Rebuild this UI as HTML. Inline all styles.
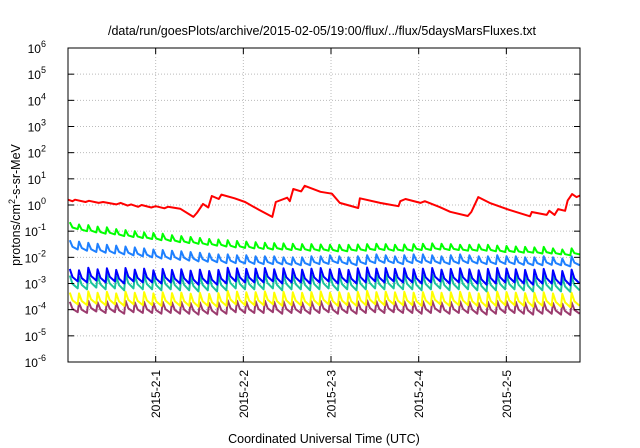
<!DOCTYPE html>
<html><head><meta charset="utf-8"><style>
html,body{margin:0;padding:0;background:#fff;}
svg{display:block;font-family:"Liberation Sans",sans-serif;}
</style></head><body>
<svg id="chart" width="640" height="448" viewBox="0 0 640 448" xmlns="http://www.w3.org/2000/svg">
<text x="322" y="35" font-size="12.5" text-anchor="middle" fill="#000">/data/run/goesPlots/archive/2015-02-05/19:00/flux/../flux/5daysMarsFluxes.txt</text>
<g id="grid"></g>
<g id="series"></g>
<rect x="68" y="48" width="512" height="314" fill="none" stroke="#000" stroke-width="1"/>
<g id="axes"></g>
<text x="324" y="443" font-size="12.5" text-anchor="middle">Coordinated Universal Time (UTC)</text>
<text transform="translate(20,205) rotate(-90)" font-size="12.5" text-anchor="middle">protons/cm<tspan font-size="9" dy="-5">2</tspan><tspan dy="5">-s-sr-MeV</tspan></text>
</svg>
<script>
const yExponents=[-6,-5,-4,-3,-2,-1,0,1,2,3,4,5,6];
const xTickDays=[1,2,3,4,5];
const xTickLabels=["2015-2-1","2015-2-2","2015-2-3","2015-2-4","2015-2-5"];
const toothStart=0.02, toothPeriod=0.106;
const redTimes=[0,0.05,0.08,0.2,0.24,0.35,0.4,0.55,0.6,0.68,0.72,0.8,0.84,0.95,1.0,1.1,1.14,1.28,1.43,1.47,1.54,1.6,1.64,1.72,1.75,1.9,2.02,2.18,2.33,2.37,2.5,2.53,2.57,2.66,2.7,2.88,3.01,3.1,3.31,3.33,3.56,3.77,3.79,3.85,4.02,4.07,4.24,4.36,4.56,4.6,4.68,4.81,5.04,5.27,5.29,5.46,5.49,5.55,5.59,5.67,5.7,5.75,5.8,5.84];
const redValues=[1.6,1.4,1.6,1.3,1.45,1.2,1.3,1.05,1.2,0.95,1.05,0.85,1.0,0.8,0.9,0.75,0.85,0.72,0.35,0.5,1.1,0.8,2.2,1.7,2.5,1.8,1.3,0.65,0.35,1.3,1.9,1.4,4.1,3.3,5.4,3.2,2.7,1.2,0.77,1.8,1.2,0.9,1.4,1.7,1.2,1.4,0.83,0.55,0.38,0.54,2.0,1.2,0.64,0.37,0.54,0.42,0.6,0.42,0.7,0.6,1.5,2.6,2.0,2.3];
const greenPeaks=[0.22,0.18,0.17,0.15,0.14,0.12,0.11,0.10,0.09,0.085,0.08,0.07,0.065,0.06,0.055,0.05,0.048,0.045,0.042,0.04,0.038,0.036,0.035,0.034,0.033,0.032,0.032,0.031,0.03,0.03,0.03,0.031,0.032,0.033,0.032,0.03,0.031,0.032,0.033,0.034,0.033,0.032,0.03,0.03,0.031,0.03,0.028,0.027,0.026,0.025,0.024,0.025,0.022,0.02,0.022];
const greenTroughs=[0.12,0.1,0.09,0.08,0.075,0.065,0.06,0.055,0.05,0.045,0.042,0.038,0.035,0.033,0.03,0.028,0.026,0.024,0.023,0.022,0.021,0.02,0.02,0.019,0.019,0.018,0.018,0.018,0.017,0.017,0.018,0.018,0.019,0.019,0.018,0.018,0.018,0.019,0.019,0.02,0.019,0.019,0.018,0.018,0.018,0.017,0.016,0.016,0.015,0.015,0.014,0.014,0.013,0.012,0.013];
const skyPeaks=[0.045,0.04,0.036,0.033,0.03,0.028,0.026,0.024,0.022,0.02,0.019,0.018,0.017,0.016,0.015,0.014,0.013,0.013,0.012,0.012,0.011,0.011,0.011,0.01,0.01,0.01,0.011,0.011,0.012,0.011,0.01,0.011,0.012,0.013,0.012,0.011,0.012,0.013,0.013,0.012,0.011,0.012,0.013,0.012,0.011,0.011,0.012,0.011,0.011,0.01,0.01,0.011,0.01,0.009,0.011];
const skyTroughs=[0.02,0.018,0.016,0.015,0.014,0.013,0.012,0.011,0.01,0.009,0.0085,0.008,0.0075,0.007,0.0068,0.0065,0.006,0.006,0.0058,0.0056,0.0055,0.0055,0.0054,0.0052,0.005,0.005,0.0055,0.0056,0.006,0.0055,0.005,0.0055,0.006,0.0062,0.006,0.0055,0.006,0.0062,0.006,0.0058,0.0055,0.0058,0.006,0.0058,0.0055,0.0055,0.0056,0.0055,0.0052,0.005,0.005,0.0052,0.005,0.0045,0.005];
const bluePeaks=[3.6,3.2,4.0,3.5,3.8,3.3,3.9,3.4,3.7,3.2,3.6,3.3,3.5,3.1,3.4,3.0,3.3,4.0,3.8,3.6,3.7,3.9,3.5,3.8,3.6,3.4,3.7,3.9,3.5,3.6,3.3,3.8,4.1,3.7,3.9,3.6,3.8,3.5,3.7,3.9,3.4,3.6,3.8,3.5,3.2,3.6,3.9,3.7,3.5,3.3,3.4,3.6,3.2,3.0,3.4].map(v=>v*1e-3);
const blueTroughs=[1.2,1.1,1.3,1.1,1.2,1.0,1.2,1.1,1.1,1.0,1.1,1.0,1.0,0.9,1.0,0.9,1.0,1.2,1.1,1.1,1.1,1.2,1.0,1.1,1.1,1.0,1.1,1.2,1.0,1.1,1.0,1.1,1.2,1.1,1.2,1.1,1.1,1.0,1.1,1.2,1.0,1.1,1.1,1.0,0.9,1.0,1.1,1.1,1.0,0.9,1.0,1.0,0.9,0.85,1.0].map(v=>v*1e-3);
const tealPeaks=[2.0,1.8,2.3,2.0,2.2,1.9,2.3,2.0,2.1,1.9,2.1,1.9,2.0,1.8,2.0,1.8,1.9,2.3,2.2,2.1,2.1,2.2,2.0,2.2,2.1,2.0,2.1,2.2,2.0,2.1,1.9,2.2,2.3,2.1,2.2,2.0,2.2,2.0,2.1,2.2,1.9,2.1,2.2,2.0,1.8,2.0,2.2,2.1,2.0,1.9,1.9,2.0,1.8,1.7,1.9].map(v=>v*1e-3);
const tealTroughs=[0.65,0.6,0.7,0.6,0.65,0.55,0.65,0.6,0.6,0.55,0.6,0.55,0.55,0.5,0.55,0.5,0.55,0.65,0.6,0.6,0.6,0.65,0.55,0.6,0.6,0.55,0.6,0.65,0.55,0.6,0.55,0.6,0.65,0.6,0.65,0.6,0.6,0.55,0.6,0.65,0.55,0.6,0.6,0.55,0.5,0.55,0.6,0.6,0.55,0.5,0.55,0.55,0.5,0.48,0.55].map(v=>v*1e-3);
const yellowPeaks=[4.5,4.2,5.0,4.4,4.8,4.2,4.9,4.4,4.7,4.2,4.6,4.3,4.5,4.1,4.4,4.0,4.3,5.2,4.9,4.6,4.7,5.0,4.5,4.8,4.6,4.4,4.7,5.0,4.5,4.6,4.3,4.8,5.2,4.7,4.9,4.6,4.8,4.5,4.7,4.9,4.4,4.6,4.8,4.5,4.2,4.6,4.9,4.7,4.5,4.3,4.4,4.6,4.2,4.0,4.4].map(v=>v*1e-4);
const yellowTroughs=[1.6,1.5,1.7,1.5,1.6,1.4,1.6,1.5,1.5,1.4,1.5,1.4,1.4,1.3,1.4,1.3,1.4,1.6,1.5,1.5,1.5,1.6,1.4,1.5,1.5,1.4,1.5,1.6,1.4,1.5,1.4,1.5,1.6,1.5,1.6,1.5,1.5,1.4,1.5,1.6,1.4,1.5,1.5,1.4,1.3,1.4,1.5,1.5,1.4,1.3,1.4,1.4,1.3,1.25,1.4].map(v=>v*1e-4);
const purplePeaks=[2.0,1.8,2.2,1.9,2.1,1.8,2.2,1.9,2.0,1.8,2.0,1.9,2.0,1.8,1.9,1.8,1.9,2.3,2.2,2.0,2.1,2.2,2.0,2.1,2.0,1.9,2.1,2.2,2.0,2.0,1.9,2.1,2.3,2.1,2.2,2.0,2.1,2.0,2.1,2.2,1.9,2.0,2.1,2.0,1.8,2.0,2.2,2.1,2.0,1.9,1.9,2.0,1.8,1.7,1.9].map(v=>v*1e-4);
const purpleTroughs=[8,7.5,8.5,7.5,8,7,8,7.5,7.5,7,7.5,7,7,6.5,7,6.5,7,8,7.5,7.5,7.5,8,7,7.5,7.5,7,7.5,8,7,7.5,7,7.5,8,7.5,8,7.5,7.5,7,7.5,8,7,7.5,7.5,7,6.5,7,7.5,7.5,7,6.5,7,7,6.5,6.3,7].map(v=>v*1e-5);

const X0=68,X1=580,Y0=48,Y1=362,DMIN=0,DMAX=5.84,LMIN=-6,LMAX=6;
const xs=d=>X0+(d-DMIN)/(DMAX-DMIN)*(X1-X0);
const ys=v=>Y1-(Math.log10(v)-LMIN)/(LMAX-LMIN)*(Y1-Y0);
const NS="http://www.w3.org/2000/svg";
function mk(tag,parent){const e=document.createElementNS(NS,tag);parent.appendChild(e);return e;}
const grid=document.getElementById('grid'),axes=document.getElementById('axes'),ser=document.getElementById('series');

yExponents.forEach(p=>{
  const y=ys(Math.pow(10,p));
  if(p>LMIN&&p<LMAX){const g=mk('line',grid);
    
    
    g.setAttribute('x1',X0);g.setAttribute('x2',X1);g.setAttribute('y1',y);g.setAttribute('y2',y);
    g.setAttribute('stroke','#bbb');g.setAttribute('stroke-dasharray','1,2');}
  [[X0,X0+6],[X1-6,X1]].forEach(([a,b])=>{const t=mk('line',axes);
    
    
    t.setAttribute('x1',a);t.setAttribute('x2',b);t.setAttribute('y1',y);t.setAttribute('y2',y);t.setAttribute('stroke','#000');});
  const tx=mk('text',axes);
  
  
  tx.setAttribute('x',X0-22);tx.setAttribute('y',y+5);tx.setAttribute('font-size','12');tx.setAttribute('text-anchor','end');
  tx.textContent='10';
  const sup=mk('tspan',tx);sup.setAttribute('font-size','9');sup.setAttribute('dy','-6');sup.textContent=String(p);
});
xTickDays.forEach((d,i)=>{
  const x=xs(d);
  const g=mk('line',grid);
  
  
  g.setAttribute('x1',x);g.setAttribute('x2',x);g.setAttribute('y1',Y0);g.setAttribute('y2',Y1);
  g.setAttribute('stroke','#bbb');g.setAttribute('stroke-dasharray','1,2');
  [[Y1,Y1-6],[Y0,Y0+6]].forEach(([a,b])=>{const t=mk('line',axes);
    
    
    t.setAttribute('x1',x);t.setAttribute('x2',x);t.setAttribute('y1',a);t.setAttribute('y2',b);t.setAttribute('stroke','#000');});
  const tx=mk('text',axes);
  
  
  tx.setAttribute('transform','translate('+(x+4.5)+',418) rotate(-90)');
  tx.setAttribute('font-size','12');tx.textContent=xTickLabels[i];
});

function addLine(pts,color,name){
  const p=mk('polyline',ser);
  
  
  p.setAttribute('points',pts.map(q=>q[0].toFixed(1)+','+q[1].toFixed(1)).join(' '));
  p.setAttribute('fill','none');p.setAttribute('stroke',color);p.setAttribute('stroke-width','2');p.setAttribute('stroke-linejoin','round');
}
function saw(peaks,troughs,color,name){
  const n=Math.min(peaks.length,troughs.length);const pts=[];
  for(let i=0;i<n;i++){
    const t=toothStart+i*toothPeriod;
    const tEnd=Math.min(t+toothPeriod-0.015,DMAX);
    if(t>DMAX)break;
    pts.push([xs(t),ys(peaks[i])]);
    const mid=t+(tEnd-t)*0.35;
    const mv=Math.sqrt(peaks[i]*troughs[i])*0.85;
    pts.push([xs(Math.min(mid,DMAX)),ys(mv)]);
    pts.push([xs(tEnd),ys(troughs[i])]);
  }
  addLine(pts,color,name);
}
saw(purplePeaks,purpleTroughs,'#9b3b6e','series-purple');
saw(yellowPeaks,yellowTroughs,'#ffff00','series-yellow');
saw(tealPeaks,tealTroughs,'#1cc49c','series-teal');
saw(bluePeaks,blueTroughs,'#0000ff','series-blue');
saw(skyPeaks,skyTroughs,'#1e80ff','series-sky-blue');
saw(greenPeaks,greenTroughs,'#00ff00','series-green');
addLine(redTimes.map((t,i)=>[xs(t),ys(redValues[i])]),'#ff0000','series-red');
</script>
</body></html>
